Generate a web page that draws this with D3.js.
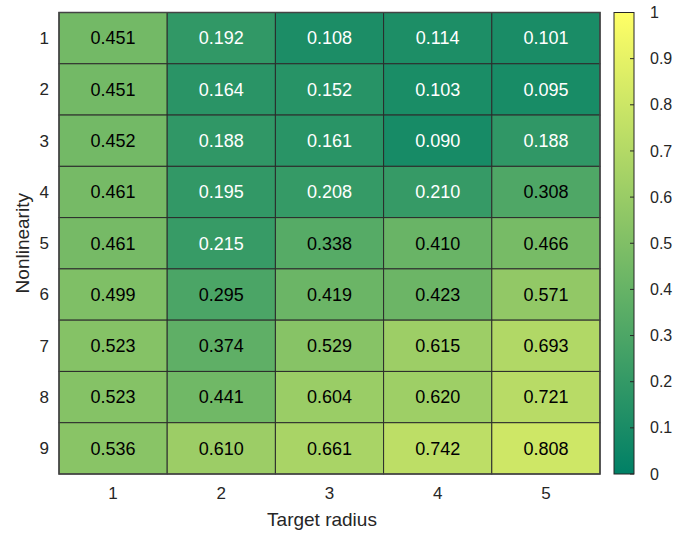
<!DOCTYPE html>
<html>
<head>
<meta charset="utf-8">
<script src="https://cdn.jsdelivr.net/npm/d3@7"></script>
<style>
  body { margin: 0; background: #fff; }
  text { font-family: "Liberation Sans", Arial, sans-serif; }
</style>
</head>
<body>
<script>
const radii = ["1", "2", "3", "4", "5"];
const levels = ["1", "2", "3", "4", "5", "6", "7", "8", "9"];
const values = [
  [0.451, 0.192, 0.108, 0.114, 0.101],
  [0.451, 0.164, 0.152, 0.103, 0.095],
  [0.452, 0.188, 0.161, 0.090, 0.188],
  [0.461, 0.195, 0.208, 0.210, 0.308],
  [0.461, 0.215, 0.338, 0.410, 0.466],
  [0.499, 0.295, 0.419, 0.423, 0.571],
  [0.523, 0.374, 0.529, 0.615, 0.693],
  [0.523, 0.441, 0.604, 0.620, 0.721],
  [0.536, 0.610, 0.661, 0.742, 0.808]
];
const cbTicks = [0, 0.1, 0.2, 0.3, 0.4, 0.5, 0.6, 0.7, 0.8, 0.9, 1];

const width = 694, height = 533;
const plot = { left: 59, top: 12.5, right: 600, bottom: 474 };
const cb = { left: 614, right: 634 };

// matlab "summer"
const summer = t => d3.rgb(255 * t, 255 * (0.5 + t / 2), 255 * 0.4);

const svg = d3.select('body')
  .append('svg')
  .attr('width', width)
  .attr('height', height);

const x = d3.scaleBand().domain(radii).range([plot.left, plot.right]);
const y = d3.scaleBand().domain(levels).range([plot.top, plot.bottom]);

const cells = [];
values.forEach((row, i) => row.forEach((v, j) => cells.push({ r: levels[i], c: radii[j], v })));

svg.append('g').selectAll('rect')
  .data(cells)
  .enter()
  .append('rect')
  .attr('x', d => x(d.c))
  .attr('y', d => y(d.r))
  .attr('width', x.bandwidth())
  .attr('height', y.bandwidth())
  .attr('fill', d => summer(d.v))
  .attr('stroke', '#2b2b2b')
  .attr('stroke-width', 1);

svg.append('g').selectAll('text')
  .data(cells)
  .enter()
  .append('text')
  .attr('x', d => x(d.c) + x.bandwidth() / 2)
  .attr('y', d => y(d.r) + y.bandwidth() / 2)
  .attr('dy', '0.35em')
  .attr('text-anchor', 'middle')
  .style('font-size', '18px')
  .style('fill', d => d.v < 0.25 ? '#fff' : '#000')
  .text(d => d.v.toFixed(3));

// outer box
svg.append('rect')
  .attr('x', plot.left).attr('y', plot.top)
  .attr('width', plot.right - plot.left).attr('height', plot.bottom - plot.top)
  .attr('fill', 'none').attr('stroke', '#444').attr('stroke-width', 1.5);

// tick labels
svg.append('g').selectAll('text')
  .data(radii)
  .enter()
  .append('text')
  .attr('x', d => x(d) + x.bandwidth() / 2)
  .attr('y', plot.bottom + 25)
  .attr('text-anchor', 'middle')
  .style('font-size', '17px')
  .style('fill', '#262626')
  .text(d => d);

svg.append('g').selectAll('text')
  .data(levels)
  .enter()
  .append('text')
  .attr('x', plot.left - 10)
  .attr('y', d => y(d) + y.bandwidth() / 2)
  .attr('dy', '0.35em')
  .attr('text-anchor', 'end')
  .style('font-size', '17px')
  .style('fill', '#262626')
  .text(d => d);

svg.append('text')
  .attr('x', 322)
  .attr('y', plot.bottom + 52)
  .attr('text-anchor', 'middle')
  .style('font-size', '19px')
  .style('fill', '#262626')
  .text('Target radius');

svg.append('text')
  .attr('transform', `translate(29,${(plot.top + plot.bottom) / 2}) rotate(-90)`)
  .attr('text-anchor', 'middle')
  .style('font-size', '19px')
  .style('fill', '#262626')
  .text('Nonlinearity');

// colorbar
const defs = svg.append('defs');
const grad = defs.append('linearGradient')
  .attr('id', 'cbgrad')
  .attr('x1', 0).attr('y1', 1).attr('x2', 0).attr('y2', 0);
grad.selectAll('stop')
  .data(d3.range(0, 1.0001, 0.1))
  .enter()
  .append('stop')
  .attr('offset', d => d)
  .attr('stop-color', d => summer(d));

const cy = d3.scaleLinear().domain([0, 1]).range([plot.bottom, plot.top]);

svg.append('rect')
  .attr('x', cb.left).attr('y', cy(1))
  .attr('width', cb.right - cb.left).attr('height', cy(0) - cy(1))
  .attr('fill', 'url(#cbgrad)')
  .attr('stroke', '#262626').attr('stroke-width', 1);

const cbAxis = d3.axisRight(cy)
  .tickValues(cbTicks)
  .tickSize(0)
  .tickPadding(16)
  .tickFormat(d => d3.format('')(d));

const cbg = svg.append('g')
  .attr('transform', `translate(${cb.right},0)`)
  .call(cbAxis);
cbg.select('.domain').remove();
cbg.selectAll('text').style('font-size', '16px').style('fill', '#262626')
  .attr('font-family', null);

svg.append('g').selectAll('line')
  .data(cbTicks)
  .enter()
  .append('line')
  .attr('x1', cb.right - 4).attr('x2', cb.right)
  .attr('y1', d => cy(d)).attr('y2', d => cy(d))
  .attr('stroke', '#262626');
</script>
</body>
</html>
